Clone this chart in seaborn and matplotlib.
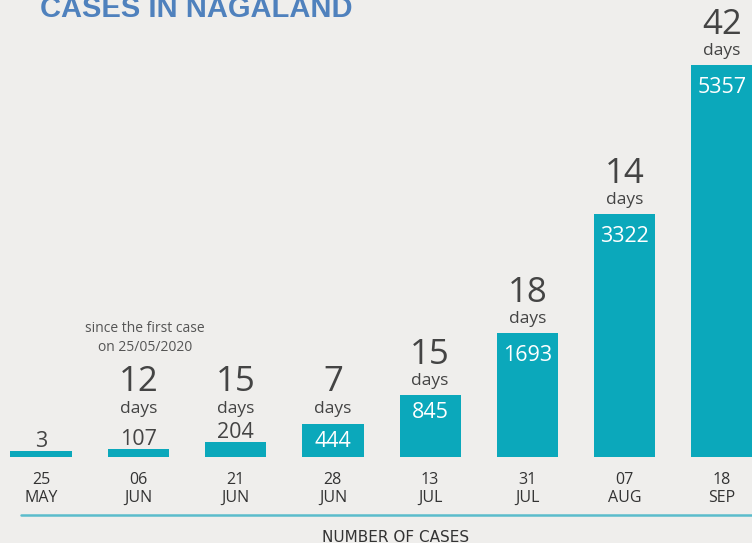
import pandas as pd
import matplotlib.pyplot as plt
import seaborn as sns
from matplotlib.lines import Line2D

dates = ["25\nMAY", "06\nJUN", "21\nJUN", "28\nJUN", "13\nJUL", "31\nJUL", "07\nAUG", "18\nSEP"]
cases = [3, 107, 204, 444, 845, 1693, 3322, 5357]
days = [None, 12, 15, 7, 15, 18, 14, 42]

BAR = "#0ba8bb"
BG = "#efeeec"
DARK = "#444444"

sns.set_theme(style="white")
plt.rcParams["font.family"] = ["Open Sans", "DejaVu Sans"]

df = pd.DataFrame({"date": dates, "cases": cases})

fig = plt.figure(figsize=(7.52, 5.43), dpi=100, facecolor=BG)
ax = fig.add_axes([0, 86 / 543, 1, 457 / 543])
ax.set_facecolor(BG)

sns.barplot(data=df, x="date", y="cases", order=dates, color=BAR,
            saturation=1, width=0.63, linewidth=0, ax=ax)

# tiny bars still need to show up as a stub
min_h = 80
for p in ax.patches:
    if p.get_height() < min_h:
        p.set_height(min_h)

ax.set_xlim(-41 / 97.29, 711 / 97.29)
ax.set_ylim(0, 6243)
ax.set_yticks([])
ax.set_xlabel("")
ax.set_ylabel("")
ax.tick_params(axis="x", length=0, pad=10.5, labelsize=11.5, labelcolor="#333333")
for lbl in ax.get_xticklabels():
    lbl.set_linespacing(1.2)
sns.despine(ax=ax, left=True, bottom=True)

for i, (v, d) in enumerate(zip(cases, days)):
    if v >= 400:
        off = -12.5 if v < 1000 else -16
        ax.annotate(str(v), (i, v), xytext=(0, off), textcoords="offset points",
                    ha="center", va="center", fontsize=15.5, color="white")
    else:
        ax.annotate(str(v), (i, max(v, min_h)), xytext=(0, 3), textcoords="offset points",
                    ha="center", va="baseline", fontsize=15.5, color=DARK)
    if d is None:
        continue
    anchor = max(v, 470)
    ax.annotate("days", (i, anchor), xytext=(0, 10), textcoords="offset points",
                ha="center", va="center", fontsize=12.5, color=DARK)
    ax.annotate(str(d), (i, anchor), xytext=(0, 29), textcoords="offset points",
                ha="center", va="center", fontsize=25, color=DARK)

ax.annotate("since the first case\non 25/05/2020", (1, 470), xytext=(5, 61),
            textcoords="offset points", ha="center", va="center",
            fontsize=10, color="#555555", linespacing=1.4)

fig.text(40 / 752, 526 / 543, "CASES IN NAGALAND", fontsize=21, fontweight="bold",
         color="#4f81bd", va="baseline", family=["Liberation Sans", "DejaVu Sans"])

fig.add_artist(Line2D([21 / 752, 1], [28 / 543, 28 / 543], color="#5bbccc", lw=1.8))
fig.text(396 / 752, 6 / 543, "NUMBER OF CASES", fontsize=11, color="#333333",
         ha="center", va="center", family=["DejaVu Sans"])

plt.savefig("out.png", dpi=100, facecolor=BG)
plt.close()
